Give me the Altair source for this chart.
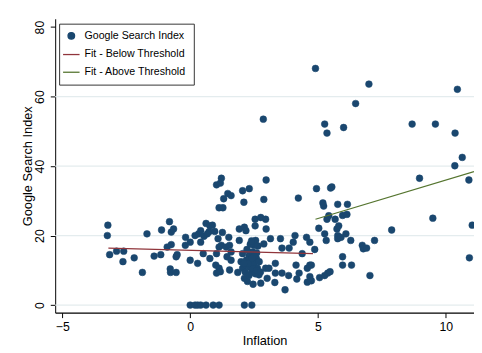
import altair as alt
import pandas as pd

# ---- data ----
inflation = [
    -3.22, -3.24, -3.15, -2.88, -2.60, -2.63, -2.19, -1.87, -1.69, -1.41,
    -1.15, -1.12, -0.90, -0.81, -0.74, -0.65, -0.74, -0.78, -0.77, -0.55,
    -0.55, -0.51, -0.18, -0.19, 0.00, 0.00, 0.19, 0.29, 0.33, 0.41,
    0.41, 0.51, 0.54, 0.62, 0.74, 0.77, 0.87, 0.67, 0.77, 0.96,
    1.03, 1.18, 1.22, 1.31, 1.13, 1.28, 1.47, 1.60, 1.09, 1.26,
    1.13, 1.03, 1.00, 1.13, 1.03, 1.18, 1.22, 1.41, 1.54, 1.51,
    1.60, 1.44, 1.54, 1.60, 1.86, 1.92, 1.92, 2.05, 2.10, 2.31,
    2.12, 2.18, 2.05, 1.99, 2.05, 2.12, 2.24, 2.18, 2.31, 2.37,
    2.44, 2.50, 2.54, 2.54, 2.56, 2.59, 2.63, 2.69, 2.46, 2.76,
    2.76, 2.88, 2.95, 2.97, 2.88, 2.86, 2.97, 2.95, 3.01, 3.14,
    3.08, 3.33, 3.33, 3.31, 3.53, 3.59, 3.59, 3.71, 3.85, 3.87,
    4.03, 4.10, 4.14, 4.23, 4.17, 4.26, 4.38, 4.55, 4.68, 4.58,
    4.68, 4.74, 4.58, 4.68, 4.74, 4.87, 4.90, 4.94, 5.03, 5.06,
    5.19, 5.22, 5.26, 5.32, 5.26, 5.38, 5.47, 5.26, 5.35, 5.35,
    5.42, 5.49, 5.54, 5.67, 5.77, 5.74, 5.77, 5.77, 5.81, 5.90,
    5.96, 5.96, 5.96, 6.00, 6.09, 6.15, 6.13, 6.28, 6.31, 6.47,
    6.73, 6.77, 6.90, 6.99, 7.03, 7.21, 7.88, 8.68, 8.97, 9.49,
    9.59, 10.36, 10.35, 10.45, 10.64, 10.90, 10.92, 11.03,
    2.20, 2.30, 2.40, 2.50, 2.60, 2.22, 2.35, 2.45, 2.55, 2.70,
    2.15, 2.30, 2.50, 2.65, 2.40, 2.28, 2.42, 2.60, 2.10, 2.75,
    0.00, 0.19, 0.29, 0.41, 0.62, 0.90, 1.13, 2.12, 2.41,
]
gsi = [
    23.0, 20.0, 14.5, 15.5, 15.5, 12.5, 13.6, 9.4, 20.5, 14.1,
    14.5, 21.6, 16.7, 24.0, 21.0, 21.9, 17.4, 10.4, 9.4, 9.4,
    13.9, 14.5, 19.5, 17.2, 18.1, 12.9, 20.0, 12.0, 20.5, 21.4,
    18.1, 14.8, 19.8, 23.5, 21.1, 22.8, 23.0, 20.5, 13.4, 21.2,
    34.6, 35.1, 36.5, 30.6, 28.0, 28.0, 32.1, 31.5, 19.1, 20.9,
    16.7, 14.8, 11.5, 10.6, 9.2, 9.6, 17.2, 16.7, 17.2, 19.5,
    15.3, 13.9, 10.1, 12.9, 9.4, 21.9, 18.6, 32.9, 29.6, 33.5,
    22.4, 21.4, 14.8, 12.5, 10.6, 7.7, 6.8, 11.5, 14.3, 12.5,
    15.3, 17.2, 24.7, 22.8, 18.6, 13.4, 10.6, 8.7, 6.0, 6.3,
    25.2, 17.6, 24.7, 21.9, 30.4, 53.5, 36.0, 10.6, 7.7, 19.1,
    10.6, 12.0, 9.2, 6.5, 19.1, 16.4, 9.2, 4.4, 8.5, 16.4,
    18.1, 20.0, 11.5, 30.8, 7.5, 9.2, 14.8, 19.5, 18.1, 10.6,
    11.5, 11.5, 6.6, 8.2, 7.0, 16.0, 68.1, 33.5, 22.1, 7.9,
    29.4, 28.5, 20.5, 18.6, 8.5, 9.2, 9.6, 52.1, 49.5, 24.7,
    25.7, 33.7, 34.0, 24.7, 29.0, 21.9, 20.0, 19.1, 22.8, 19.5,
    13.9, 11.5, 25.8, 51.1, 20.5, 29.0, 26.1, 18.6, 11.5, 58.0,
    17.2, 16.2, 16.4, 63.6, 8.5, 18.6, 21.6, 52.1, 36.5, 25.0,
    52.1, 49.5, 40.1, 62.1, 42.5, 36.0, 13.6, 23.0,
    13.0, 11.0, 9.5, 12.0, 15.0, 16.0, 17.5, 10.5, 9.0, 12.5,
    9.5, 8.5, 14.0, 17.0, 18.5, 12.0, 13.5, 10.0, 12.0, 9.5,
    0.0, 0.0, 0.0, 0.0, 0.0, 0.0, 0.0, 0.0, 0.0,
]
fit_below_x = [-3.2, 4.8]
fit_below_y = [16.4, 14.8]
fit_above_x = [4.9, 11.1]
fit_above_y = [24.7, 38.4]
grid_values = [0, 20, 40, 60]

series = ["Google Search Index", "Fit - Below Threshold", "Fit - Above Threshold"]
colors = ["#1a476f", "#90353b", "#55752f"]
shapes = ["circle", "M-2.5,0H2.5", "M-2.5,0H2.5"]

pts = pd.DataFrame({"x": inflation, "y": gsi, "s": series[0]})
fit = pd.DataFrame({
    "x": fit_below_x + fit_above_x,
    "y": fit_below_y + fit_above_y,
    "s": [series[1]] * 2 + [series[2]] * 2,
})
grid = pd.DataFrame({"y": grid_values})

FONT = "Liberation Sans"
xs = alt.Scale(domain=[-5.28, 11.1], nice=False, zero=False)
ys = alt.Scale(domain=[-2.2, 82.4], nice=False, zero=False)

legend = alt.Legend(
    title=None, orient="none", legendX=4, legendY=5,
    strokeColor="#333333", fillColor="white", padding=7,
    labelFont=FONT, labelFontSize=10.8, labelColor="#000000",
    symbolSize=45, symbolStrokeWidth=1.3, rowPadding=6, labelOffset=8,
    cornerRadius=0,
)
fill_enc = alt.Fill("s:N", scale=alt.Scale(domain=series, range=colors), legend=legend, sort=series)
stroke_enc = alt.Stroke("s:N", scale=alt.Scale(domain=series, range=colors), legend=legend, sort=series)
shape_enc = alt.Shape("s:N", scale=alt.Scale(domain=series, range=shapes), legend=legend, sort=series)

gridlines = alt.Chart(grid).mark_rule(color="#e4ecee", strokeWidth=1.2).encode(
    y=alt.Y("y:Q", scale=ys)
)

points = alt.Chart(pts).mark_point(filled=True, size=48, opacity=1, strokeWidth=0.5, clip=True).encode(
    x=alt.X("x:Q", scale=xs, axis=alt.Axis(
        title="Inflation", values=[-5, 0, 5, 10], grid=False, tickSize=5,
        labelPadding=3, titlePadding=2)),
    y=alt.Y("y:Q", scale=ys, axis=alt.Axis(
        title="Google Search Index", values=[0, 20, 40, 60, 80], grid=False,
        tickSize=5, labelAngle=-90, labelAlign="center", labelBaseline="bottom",
        labelPadding=4, titlePadding=-1)),
    fill=fill_enc,
    stroke=stroke_enc,
    shape=shape_enc,
)

lines = alt.Chart(fit).mark_line(strokeWidth=1.2, clip=True).encode(
    x=alt.X("x:Q", scale=xs),
    y=alt.Y("y:Q", scale=ys),
    stroke=stroke_enc,
    detail="s:N",
)

chart = alt.layer(gridlines, points, lines).properties(
    width=426, height=299,
    autosize=alt.AutoSizeParams(type="none"),
    padding={"left": 48, "top": 8, "right": 0, "bottom": 36},
).configure_view(stroke=None).configure_axis(
    labelFont=FONT, titleFont=FONT, labelFontSize=12.5, titleFontSize=13,
    titleFontWeight="normal", labelColor="#000000", titleColor="#000000",
    domainColor="#000000", tickColor="#000000", domainWidth=1, tickWidth=1,
).configure_axisX(domainWidth=1.2)

chart.save("out.html", embed_options={"renderer": "svg", "actions": False})
